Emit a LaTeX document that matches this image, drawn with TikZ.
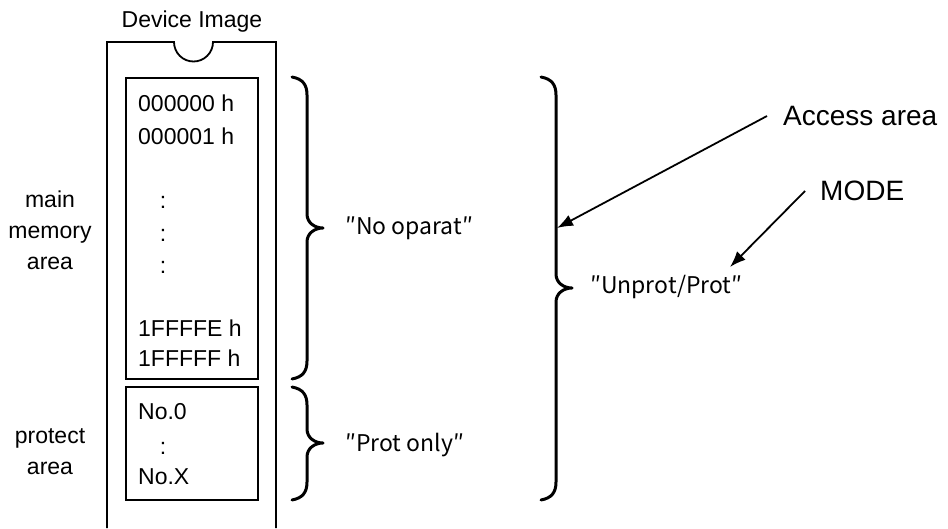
\documentclass[tikz,border=0pt]{standalone}
\usepackage{fontspec}
\setmainfont{Liberation Sans}
\newfontfamily\jpfont{Noto Sans CJK JP}
\usetikzlibrary{arrows.meta}

\tikzset{
  membox/.style={draw, line width=1.6pt, inner sep=0pt},
  lbl/.style={font=\fontsize{23}{31}\selectfont, inner sep=0pt},
  quot/.style={font=\jpfont\fontsize{23}{28}\selectfont, inner sep=0pt, anchor=west},
  big/.style={font=\fontsize{28}{34}\selectfont, inner sep=0pt},
  curly/.style={line width=3pt, line cap=round, line join=round},
  pointer/.style={line width=1.8pt, -{Latex[length=16pt,width=12pt]}},
}
% x of the stem, top, bottom, y of the tip
\newcommand{\curlybrace}[4]{%
  \draw[curly] (#1-15,#2) .. controls (#1-4,#2+2) and (#1,#2+8) .. (#1,#2+18)
    -- (#1,#4-14) .. controls (#1,#4-5) and (#1+8,#4) .. (#1+16,#4)
    .. controls (#1+8,#4) and (#1,#4+5) .. (#1,#4+14)
    -- (#1,#3-18) .. controls (#1,#3-8) and (#1-4,#3-2) .. (#1-15,#3);}

\begin{document}
\begin{tikzpicture}[x=1pt, y=-1pt]
    \useasboundingbox (0,0) rectangle (948,528);

    % ==== DEVICE OUTLINE ====
    \node[lbl] (devimg) at (192,22) {Device Image};
    \draw[line width=1.8pt] (107,528) -- (107,42) -- (174,42)
        arc[start angle=180, end angle=0, radius=19.5] -- (276,42) -- (276,528);

    % ==== MAIN MEMORY ====
    \node[membox, minimum width=132pt, minimum height=301pt] (mainbox) at (192,228.5) {};
    \node[lbl, anchor=west] (adr0) at (138,103) {000000 h};
    \node[lbl, anchor=west] (adr1) at (138,136) {000001 h};
    \foreach \yy/\nm in {202/a, 235/b, 267/c}
        \node[lbl] (dots\nm) at (163,\yy) {:};
    \node[lbl, anchor=west] (adrE) at (138,328) {1FFFFE h};
    \node[lbl, anchor=west] (adrF) at (138,358) {1FFFFF h};

    % ==== PROTECT AREA ====
    \node[membox, minimum width=132pt, minimum height=113pt] (protbox) at (192,443.5) {};
    \node[lbl, anchor=west] (no0) at (138,412) {No.0};
    \node[lbl] (dotsp) at (163,448) {:};
    \node[lbl, anchor=west] (noX) at (138,477) {No.X};

    % ==== LEFT LABELS ====
    \node[lbl, align=center] (mainlbl) at (50,230) {main\\memory\\area};
    \node[lbl, align=center] (protlbl) at (50,452) {protect\\area};

    % ==== BRACES ====
    \curlybrace{307}{77}{379}{228}
    \curlybrace{307}{387}{500}{443}
    \curlybrace{556}{77}{500}{288}
    \node[quot] (noop) at (345,228) {″No oparat″};
    \node[quot] (protonly) at (345,445) {″Prot only″};
    \node[quot] (unprot) at (590,287) {″Unprot/Prot″};

    % ==== ACCESS AREA and MODE ====
    \node[big, anchor=west] (access) at (783,116) {Access area};
    \node[big, anchor=west] (mode) at (820,191) {MODE};
    \coordinate (accesstip) at (557,228);
    \coordinate (modetip) at (730,267);
    \draw[pointer] ([xshift=-16pt]access.west) -- (accesstip);
    \draw[pointer] ([xshift=-15pt]mode.west) -- (modetip);
\end{tikzpicture}
\end{document}
